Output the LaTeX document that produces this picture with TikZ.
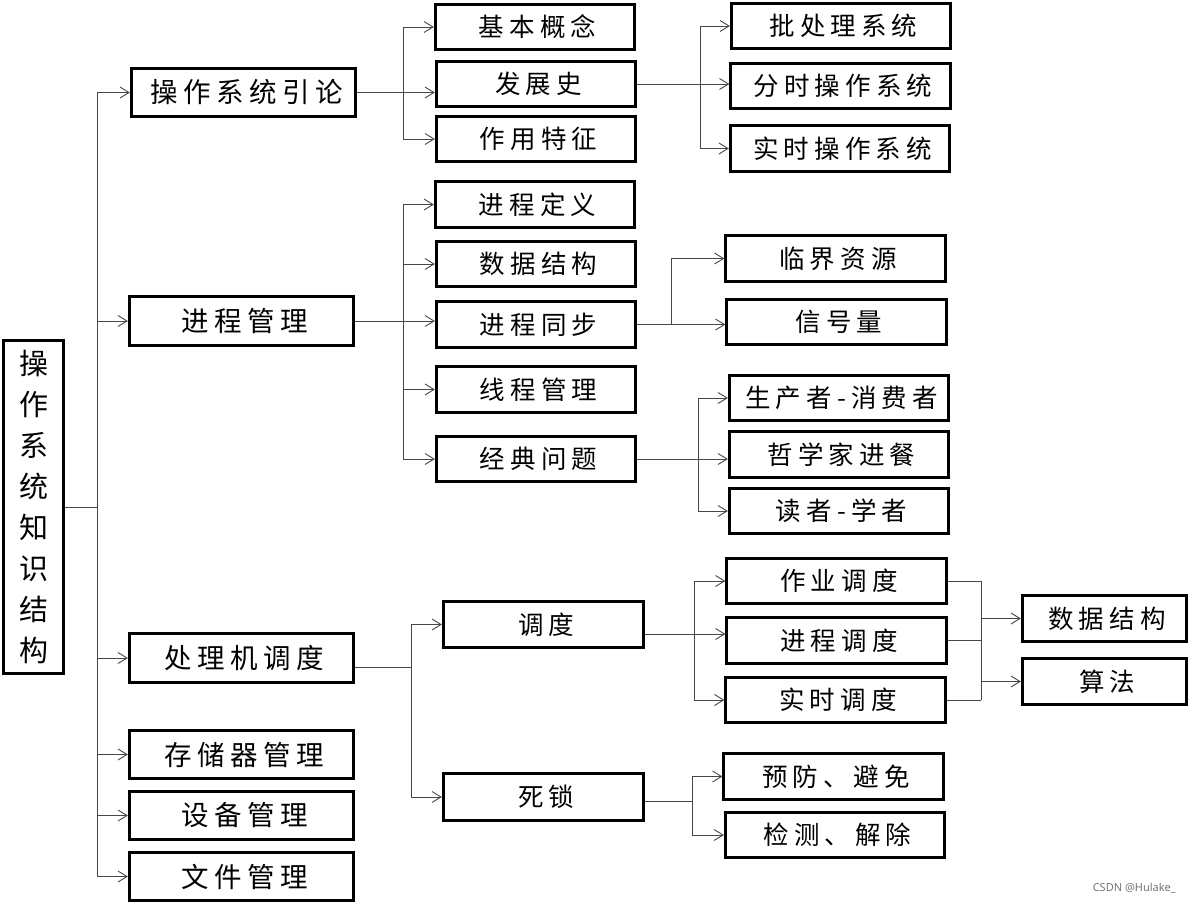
\documentclass[tikz,border=0pt]{standalone}
\usepackage{fontspec}
\newfontfamily\cjk[LetterSpace=20]{Noto Sans CJK SC}
\newfontfamily\cjkr{Noto Sans CJK SC}
\newfontfamily\wmfont{Noto Sans}
\usetikzlibrary{arrows.meta,calc}
\begin{document}
\begin{tikzpicture}[x=1pt,y=-1pt,
  bx/.style 2 args={draw=black,line width=2.8pt,inner sep=0pt,minimum width=#1,minimum height=#2,
    font=\cjk\fontsize{25.5}{25.5}\selectfont,execute at begin node={\kern0.2em}},
  bxa/.style={bx={224.5}{48.5},font=\cjk\fontsize{27.5}{27.5}\selectfont},
  bxb/.style={bx={199.5}{45.5}},
  bxc/.style={bx={219.5}{45.5}},
  bxd/.style={bx={164.5}{45.5}},
  ln/.style={draw=black!72,line width=0.9pt},
  arr/.style={ln,-{Straight Barb[length=9pt,width=11pt]}}]
\useasboundingbox (0,0) rectangle (1190,904);

% root
\node[draw=black,line width=2.8pt,minimum width=60.5,minimum height=333.5,inner sep=0pt,
  align=center,font=\cjkr\fontsize{29}{41}\selectfont] (root) at (33.5,507)
  {操\\作\\系\\统\\知\\识\\结\\构};

% level 1
\node[bxa] (intro) at (243.5,92.5) {操作系统引论};
\node[bxa,minimum height=49.5] (proc) at (241.5,321) {进程管理};
\node[bxa,minimum height=49.5] (cpu) at (241.5,658) {处理机调度};
\node[bxa] (mem) at (241.5,754.5) {存储器管理};
\node[bxa] (dev) at (241.5,815.5) {设备管理};
\node[bxa] (file) at (241.5,876.5) {文件管理};

% intro children
\node[bxb] (basic) at (535,27) {基本概念};
\node[bxb] (hist) at (536,84) {发展史};
\node[bxb] (feat) at (536,139) {作用特征};
\node[bxc] (batch) at (841,26) {批处理系统};
\node[bxc] (ts) at (840.5,86) {分时操作系统};
\node[bxc] (rt) at (840,148.5) {实时操作系统};

% proc children
\node[bxb] (pdef) at (535,204.5) {进程定义};
\node[bxb] (ds) at (536,264) {数据结构};
\node[bxb] (sync) at (536,324.5) {进程同步};
\node[bxb] (thr) at (536,389.5) {线程管理};
\node[bxb] (classic) at (536,459) {经典问题};
\node[bxc] (crit) at (835.5,258.5) {临界资源};
\node[bxc] (sem) at (836.5,322) {信号量};
\node[bxc] (prod) at (839,398) {生产者-消费者};
\node[bxc] (phil) at (839,454.5) {哲学家进餐};
\node[bxc] (reader) at (839,511) {读者-学者};

% cpu children
\node[bx={200.5}{46.5}] (sched) at (543.5,624.5) {调度};
\node[bx={200.5}{47.5}] (dead) at (543.5,797) {死锁};
\node[bxc] (job) at (836.5,581) {作业调度};
\node[bxc] (pcs) at (836.5,640.5) {进程调度};
\node[bxc] (rts) at (835.5,700) {实时调度};
\node[bxc] (prev) at (833.5,776.5) {预防、避免};
\node[bxc] (det) at (835,835) {检测、解除};
\node[bxd] (ds2) at (1104.5,618.5) {数据结构};
\node[bxd,minimum height=46.5] (alg) at (1104.5,681.5) {算法};

% junction coordinates
\coordinate (j0) at (97,507);
\coordinate (j1) at (403,0);
\coordinate (j2) at (700,0);
\coordinate (j3) at (403,0);
\coordinate (j4) at (671,0);
\coordinate (j5) at (698,0);
\coordinate (j6) at (411,0);
\coordinate (j7) at (694,0);
\coordinate (j8) at (692,0);
\coordinate (j9) at (981,0);

% root -> level 1
\draw[ln] (root.east) -- (j0);
\draw[ln] (j0 |- intro.west) -- (j0 |- file.west);
\foreach \n in {intro,proc,cpu,mem,dev,file}
  \draw[arr] (j0 |- \n.west) -- (\n.west);

% intro
\draw[arr] (intro.east) -- (intro.east -| hist.west);
\draw[ln] (j1 |- basic.west) -- (j1 |- feat.west);
\draw[arr] (j1 |- basic.west) -- (basic.west);
\draw[arr] (j1 |- feat.west) -- (feat.west);

% hist
\draw[arr] (hist.east) -- (hist.east -| ts.west);
\draw[ln] (j2 |- batch.west) -- (j2 |- rt.west);
\draw[arr] (j2 |- batch.west) -- (batch.west);
\draw[arr] (j2 |- rt.west) -- (rt.west);

% proc
\draw[arr] (proc.east) -- (proc.east -| sync.west);
\draw[ln] (j3 |- pdef.west) -- (j3 |- classic.west);
\foreach \n in {pdef,ds,thr,classic}
  \draw[arr] (j3 |- \n.west) -- (\n.west);

% sync
\draw[arr] (sync.east) -- (sync.east -| sem.west);
\draw[ln] (j4 |- crit.west) -- (j4 |- sync.east);
\draw[arr] (j4 |- crit.west) -- (crit.west);

% classic
\draw[arr] (classic.east) -- (classic.east -| phil.west);
\draw[ln] (j5 |- prod.west) -- (j5 |- reader.west);
\draw[arr] (j5 |- prod.west) -- (prod.west);
\draw[arr] (j5 |- reader.west) -- (reader.west);

% cpu
\coordinate (cpuo) at ([yshift=-9pt]cpu.east);
\draw[ln] (cpuo) -- (cpuo -| j6);
\draw[ln] (j6 |- sched.west) -- (j6 |- dead.west);
\draw[arr] (j6 |- sched.west) -- (sched.west);
\draw[arr] (j6 |- dead.west) -- (dead.west);

% sched
\coordinate (scho) at ([yshift=-9.5pt]sched.east);
\draw[arr] (scho) -- (scho -| pcs.west);
\draw[ln] (j7 |- job.west) -- (j7 |- rts.west);
\draw[arr] (j7 |- job.west) -- (job.west);
\draw[arr] (j7 |- rts.west) -- (rts.west);

% dead
\coordinate (deado) at ([yshift=-4pt]dead.east);
\draw[ln] (deado) -- (deado -| j8);
\draw[ln] (j8 |- prev.west) -- (j8 |- det.west);
\draw[arr] (j8 |- prev.west) -- (prev.west);
\draw[arr] (j8 |- det.west) -- (det.west);

% level 4
\foreach \n in {job,pcs,rts}
  \draw[ln] (\n.east) -- (\n.east -| j9);
\draw[ln] (j9 |- job.east) -- (j9 |- rts.east);
\draw[arr] (j9 |- ds2.west) -- (ds2.west);
\draw[arr] (j9 |- alg.west) -- (alg.west);

% watermark
\node[font=\wmfont\fontsize{11}{11}\selectfont,text=black!55,anchor=east,inner sep=0pt] (wm) at (1176,888) {CSDN @Hulake\_};
\end{tikzpicture}
\end{document}
